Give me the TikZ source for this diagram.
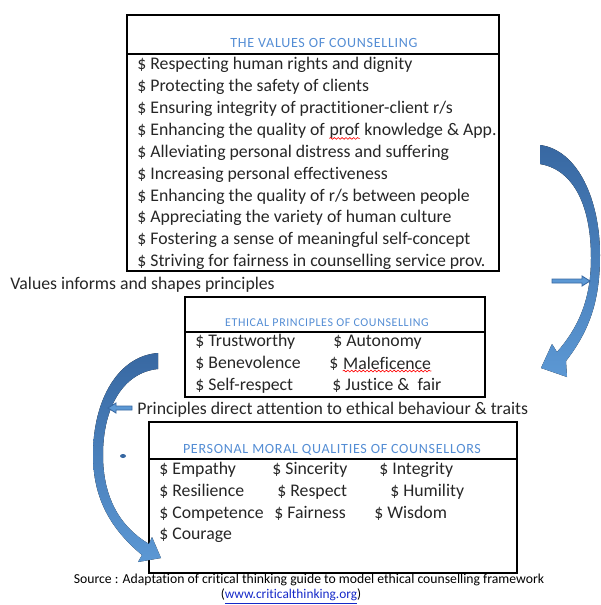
\documentclass[tikz,border=0pt]{standalone}
\usepackage{fontspec}
\setmainfont[Ligatures=NoCommon]{Carlito}
\usetikzlibrary{positioning}
\usetikzlibrary{decorations.pathmorphing}
\definecolor{ttlblue}{RGB}{84,141,212}
\definecolor{arrdark}{RGB}{56,104,162}
\definecolor{arrlight}{RGB}{92,152,212}
\definecolor{linkblue}{RGB}{20,40,200}
\tikzstyle{txt} = [anchor=mid west, inner sep=0pt, font=\fontsize{10.1}{12}\selectfont, text=black!85]
\tikzstyle{hdr} = [inner sep=0pt, text=ttlblue]
\tikzstyle{bx} = [draw, line width=0.9pt]
\tikzstyle{curvarr} = [top color=arrdark, bottom color=arrlight, draw=none]
\tikzstyle{blk} = [fill=arrlight, draw=arrdark, line width=0.5pt]
\tikzstyle{spell} = [draw=red, line width=0.35pt, decorate, decoration={snake, amplitude=0.5pt, segment length=2.2pt}]

\begin{document}
\begin{tikzpicture}[x=0.02cm,y=-0.02cm]
\useasboundingbox (0,0) rectangle (601,605);

% values box
\draw[bx] (127,15) coordinate(v_a) rectangle (499,271) coordinate(v_b);
\draw[bx] (127,54) -- (499,54);
\node[hdr, font=\fontsize{8}{9}\selectfont\addfontfeature{LetterSpace=5}] (v_t) at (324,43) {THE VALUES OF COUNSELLING};
\node[txt] (v_1) at (137,65) {\$ Respecting human rights and dignity};
\node[txt] (v_2) at (137,87) {\$ Protecting the safety of clients};
\node[txt] (v_3) at (137,109) {\$ Ensuring integrity of practitioner-client r/s};
\node[txt] (v_4) at (137,131) {\$ Enhancing the quality of};
\node[txt, right=2.3pt of v_4] (v_4p) {prof};
\node[txt, right=2.3pt of v_4p] (v_4k) {knowledge \& App.};
\node[txt] (v_5) at (137,153) {\$ Alleviating personal distress and suffering};
\node[txt] (v_6) at (137,175) {\$ Increasing personal effectiveness};
\node[txt] (v_7) at (137,197) {\$ Enhancing the quality of r/s between people};
\node[txt] (v_8) at (137,218) {\$ Appreciating the variety of human culture};
\node[txt] (v_9) at (137,240) {\$ Fostering a sense of meaningful self-concept};
\node[txt] (v_10) at (137,262) {\$ Striving for fairness in counselling service prov.};
\draw[spell] (v_4p.south west) -- (v_4p.south east);

\node[txt] (l_1) at (10,285) {Values informs and shapes principles};

% principles box
\draw[bx] (185,297) coordinate(p_a) rectangle (485,397) coordinate(p_b);
\draw[bx] (185,332) -- (485,332);
\node[hdr, font=\fontsize{6.8}{8}\selectfont\addfontfeature{LetterSpace=5}] (p_t) at (327,323) {ETHICAL PRINCIPLES OF COUNSELLING};
\node[txt] (p_1) at (195,342) {\$ Trustworthy};
\node[txt] (p_2) at (195,364) {\$ Benevolence};
\node[txt] (p_3) at (195,386) {\$ Self-respect};
\node[txt] (p_4) at (333,342) {\$ Autonomy};
\node[txt] (p_5) at (329,364) {\$};
\node[txt, right=2.3pt of p_5] (p_5m) {Maleficence};
\node[txt] (p_6) at (332,386) {\$ Justice \&\ \ fair};
\draw[spell] ([yshift=-0.5pt]p_5m.south west) -- ([yshift=-0.5pt]p_5m.south east);

\node[txt] (l_2) at (137,410) {Principles direct attention to ethical behaviour \& traits};

% qualities box
\draw[bx] (149,422) coordinate(q_a) rectangle (517,573) coordinate(q_b);
\draw[bx] (149,459) -- (517,459);
\node[hdr, font=\fontsize{8}{9}\selectfont\addfontfeature{LetterSpace=5}] (q_t) at (332,450) {PERSONAL MORAL QUALITIES OF COUNSELLORS};
\node[txt] (q_1) at (159,470) {\$ Empathy};
\node[txt] (q_2) at (272,470) {\$ Sincerity};
\node[txt] (q_3) at (379,470) {\$ Integrity};
\node[txt] (q_4) at (159,492) {\$ Resilience};
\node[txt] (q_5) at (277,492) {\$ Respect};
\node[txt] (q_6) at (390,492) {\$ Humility};
\node[txt] (q_7) at (159,514) {\$ Competence};
\node[txt] (q_8) at (274,514) {\$ Fairness};
\node[txt] (q_9) at (374,514) {\$ Wisdom};
\node[txt] (q_10) at (159,535) {\$ Courage};

% source
\node[inner sep=0pt, font=\fontsize{7.8}{9}\selectfont] (s_1) at (309,580) {Source : Adaptation of critical thinking guide to model ethical counselling framework};
\node[inner sep=0pt, font=\fontsize{7.6}{9}\selectfont] (s_2) at (291,597) {(\textcolor{linkblue}{\underline{www.criticalthinking.org}})};

% curved arrows
\fill[curvarr] (540,145) .. controls (578,150) and (600,200) .. (600,255)
  .. controls (600,300) and (590,330) .. (566,361) -- (567,377) -- (541,368) -- (552,344)
  -- (557,352) .. controls (578,328) and (591,300) .. (591,258)
  .. controls (591,208) and (575,170) .. (540,164) -- cycle;
\fill[curvarr] (158,353) .. controls (118,356) and (93,400) .. (93,455)
  .. controls (93,500) and (112,530) .. (142,555) -- (138,562) -- (161,558) -- (152,537)
  -- (149,544) .. controls (122,528) and (103,500) .. (103,455)
  .. controls (103,405) and (125,372) .. (158,369) -- cycle;
\fill[arrdark] (123,456) ellipse (3 and 2);

% small block arrows
\draw[blk] (552,279) -- (582,279) -- (582,276) -- (590,281) -- (582,286) -- (582,283) -- (552,283) -- cycle;
\draw[blk] (132,406) -- (116,406) -- (116,403) -- (108,408) -- (116,413) -- (116,410) -- (132,410) -- cycle;

\end{tikzpicture}
\end{document}
